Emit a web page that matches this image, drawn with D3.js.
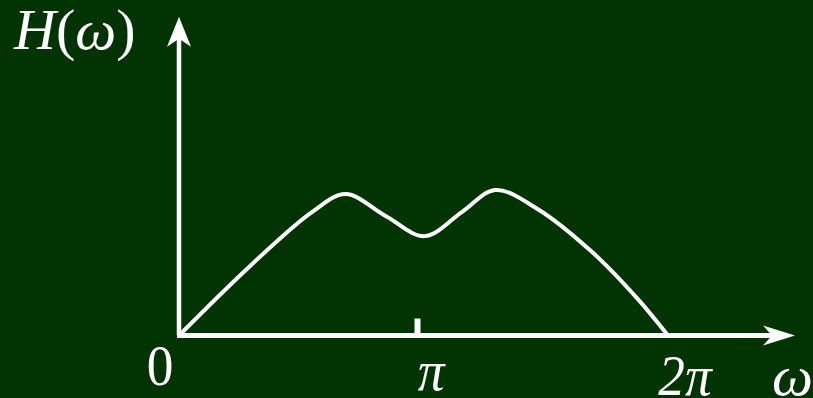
<!DOCTYPE html>
<html>
<head>
<meta charset="utf-8">
<script src="https://cdn.jsdelivr.net/npm/d3@7/dist/d3.min.js"></script>
<style>
  html, body { margin: 0; padding: 0; background: #023302; }
  svg { display: block; }
  text { fill: #fff; font-family: "Liberation Serif", "Times New Roman", serif; }
</style>
</head>
<body>
<svg id="chart" width="813" height="398"></svg>
<script>
// Frequency response sketch: ω in multiples of π, H(ω) in relative units
const omega = [0, 0.30, 0.56, 0.70, 0.87, 1.03, 1.18, 1.311, 1.48, 1.70, 1.88, 2.0];
const H     = [0, 0.48, 0.85, 0.972, 0.82, 0.683, 0.85, 1.00, 0.87, 0.57, 0.25, 0];
const omegaTicks = [0, 1, 2];
const tickLabels = ["0", "π", "2π"];
const axisEnds = { omega: 2.506, H: 2.19 };

const W = 813, Hh = 398;
const svg = d3.select("#chart");
svg.append("rect").attr("width", W).attr("height", Hh).attr("fill", "#023302");

// hand-drawn axis: slightly uneven spacing between 0, π and 2π
const x = d3.scaleLinear().domain([0, 1, 2]).range([179, 417, 668]);
const y = d3.scaleLinear().domain([0, 1]).range([335.5, 190]);

const white = "#ffffff";

// x axis line
svg.append("line")
  .attr("x1", x(0) - 2).attr("x2", x(axisEnds.omega) - 12)
  .attr("y1", y(0)).attr("y2", y(0))
  .attr("stroke", white).attr("stroke-width", 5);
// y axis line
svg.append("line")
  .attr("x1", x(0)).attr("x2", x(0))
  .attr("y1", y(0)).attr("y2", y(axisEnds.H) + 14)
  .attr("stroke", white).attr("stroke-width", 4.5);

// arrow heads
const xt = x(axisEnds.omega), yt = y(0);
svg.append("path")
  .attr("d", `M${xt},${yt} L${xt - 32},${yt - 10} L${xt - 23},${yt} L${xt - 32},${yt + 10} Z`)
  .attr("fill", white);
const ax = x(0), ay = y(axisEnds.H);
svg.append("path")
  .attr("d", `M${ax},${ay} L${ax - 12},${ay + 30} L${ax},${ay + 22} L${ax + 12},${ay + 30} Z`)
  .attr("fill", white);

// tick mark at π
const axisG = svg.append("g").attr("transform", `translate(0,${y(0)})`)
  .call(d3.axisBottom(x).tickValues([1]).tickSize(-17).tickFormat(""));
axisG.select(".domain").remove();
axisG.selectAll(".tick line").attr("stroke", white).attr("stroke-width", 6);

// curve
const line = d3.line()
  .x((d, i) => x(omega[i]))
  .y((d, i) => y(H[i]))
  .curve(d3.curveCatmullRom.alpha(0.5));
svg.append("path")
  .datum(H)
  .attr("d", line)
  .attr("fill", "none")
  .attr("stroke", white)
  .attr("stroke-width", 4)
  .attr("stroke-linejoin", "round");

// tick labels
const labelOffsets = [[-19, 385, "normal"], [14, 390, "italic"], [17, 395, "italic"]];
omegaTicks.forEach((t, i) => {
  const [dx, by, st] = labelOffsets[i];
  const cx = x(t) + dx;
  svg.append("text")
    .attr("x", cx).attr("y", by)
    .attr("text-anchor", "middle")
    .attr("font-size", 58)
    .attr("font-style", st)
    .attr("transform", `translate(${cx},0) scale(0.92,1) translate(${-cx},0)`)
    .text(tickLabels[i]);
});

// axis titles
svg.append("text").attr("x", 772).attr("y", 395)
  .attr("font-size", 58).attr("font-style", "italic").text("ω");

const title = svg.append("text").attr("x", 14).attr("y", 49).attr("font-size", 58);
title.append("tspan").attr("font-style", "italic").text("H");
title.append("tspan").text("(");
title.append("tspan").attr("font-style", "italic").text("ω");
title.append("tspan").text(")");
</script>
</body>
</html>
